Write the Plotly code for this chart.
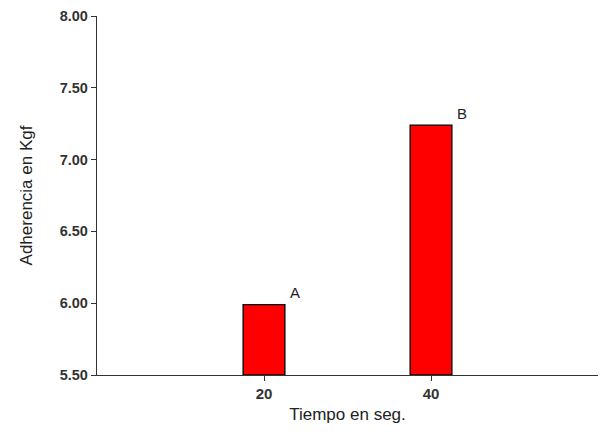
import plotly.graph_objects as go

tiempos = [20, 40]
adherencia = [5.99, 7.24]
letras = ["A", "B"]
y_ticks = [5.5, 6.0, 6.5, 7.0, 7.5, 8.0]
y_tick_labels = ["5.50", "6.00", "6.50", "7.00", "7.50", "8.00"]
base_val = 5.5

fig = go.Figure()
fig.add_trace(go.Bar(
    x=tiempos, y=[v - base_val for v in adherencia], base=base_val,
    width=5,
    marker=dict(color="#ff0000", line=dict(color="#000000", width=1.3)),
    showlegend=False,
))

for t, v, l in zip(tiempos, adherencia, letras):
    fig.add_annotation(x=t + 3.7, y=v, text=l, showarrow=False,
                       xanchor="center", yanchor="middle", yshift=12,
                       font=dict(family="Liberation Sans, Arial", size=15, color="#222222"))

fig.update_layout(
    width=600, height=426,
    margin=dict(l=89, r=10, t=8, b=59, autoexpand=False),
    paper_bgcolor="white", plot_bgcolor="white",
    font=dict(family="Liberation Sans, Arial", color="#333333"),
    xaxis=dict(range=[0, 60], tickvals=tiempos, ticktext=["20", "40"],
               showline=True, linecolor="#333333", linewidth=1.3,
               ticks="outside", ticklen=5, tickcolor="#333333",
               showgrid=False, zeroline=False, automargin=False,
               ticklabeloverflow="allow",
               tickfont=dict(size=15, color="#333333", weight="bold"),
               title=dict(text="Tiempo en seg.", font=dict(size=17, color="#222222"), standoff=6)),
    yaxis=dict(range=[5.5, 8.0], tickvals=y_ticks, ticktext=y_tick_labels,
               showline=True, linecolor="#333333", linewidth=1.3,
               ticks="outside", ticklen=5, tickcolor="#333333",
               showgrid=False, zeroline=False, automargin=False,
               ticklabeloverflow="allow",
               tickfont=dict(size=14.5, color="#333333", weight="bold"),
               title=dict(text="Adherencia en Kgf", font=dict(size=17, color="#222222"), standoff=22)),
)

fig.write_html("out.html")
